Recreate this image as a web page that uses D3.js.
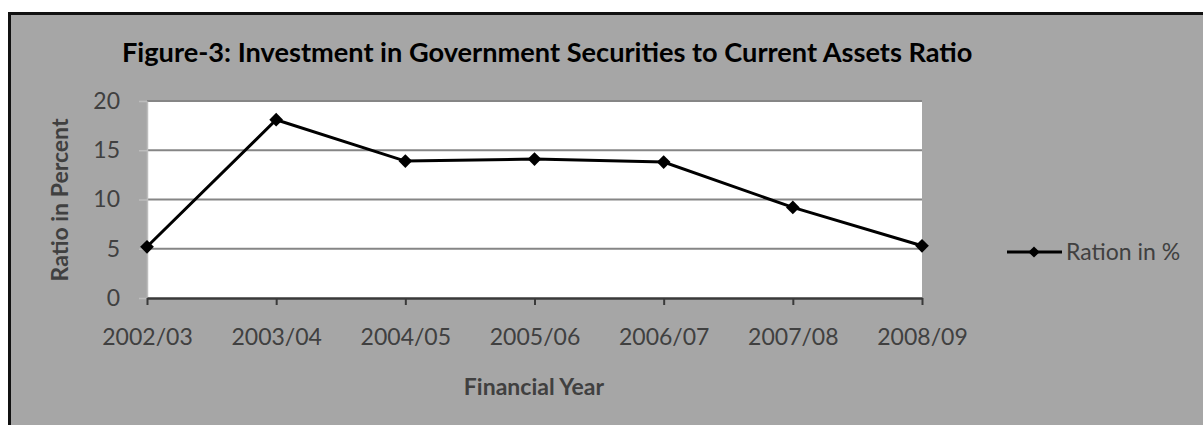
<!DOCTYPE html>
<html lang="en">
    <head>
        <meta charset="utf-8"/>
        <script src="https://d3js.org/d3.v7.min.js"></script>
        <style>
            body { margin: 0; background: #fff; }
            text { font-family: Lato, "Open Sans", sans-serif; }
        </style>
    </head>
    <body>
        <div id="chart"></div>
    </body>
    <script>
        var years = ["2002/03", "2003/04", "2004/05", "2005/06", "2006/07", "2007/08", "2008/09"];
        var ratio = [5.2, 18.1, 13.9, 14.1, 13.8, 9.2, 5.3];
        var yTicks = [0, 5, 10, 15, 20];
        var seriesName = "Ration in %";

        var W = 1203, H = 425;
        var margin = {top: 101, left: 147};
        var width = 922 - 147;
        var height = 298 - 101;

        var svg = d3.select("#chart")
            .append("svg")
                .attr("width", W)
                .attr("height", H);

        // frame
        svg.append("rect")
            .attr("x", 9.5).attr("y", 13.5)
            .attr("width", W + 20).attr("height", H + 20)
            .attr("fill", "#a6a6a6")
            .attr("stroke", "#111")
            .attr("stroke-width", 3);

        // title, fitted to reference width
        var title = svg.append("text")
            .attr("x", 122).attr("y", 62)
            .attr("font-weight", "bold")
            .attr("font-size", 24)
            .attr("fill", "#000")
            .text("Figure-3: Investment in Government Securities to Current Assets Ratio");
        var tl = title.node().getComputedTextLength();
        title.attr("font-size", 24 * 851 / tl);

        var g = svg.append("g")
            .attr("transform", "translate(" + margin.left + "," + margin.top + ")");

        var x = d3.scalePoint()
            .domain(years)
            .range([0, width]);

        var y = d3.scaleLinear()
            .domain([0, 20])
            .range([height, 0]);

        g.append("rect")
            .attr("width", width).attr("height", height)
            .attr("fill", "#fff");

        // gridlines
        g.selectAll(".grid")
            .data(yTicks.filter(function (d) { return d > 0; }))
            .enter()
            .append("line")
                .attr("x1", 0).attr("x2", width)
                .attr("y1", function (d) { return y(d); })
                .attr("y2", function (d) { return y(d); })
                .attr("stroke", "#868686")
                .attr("stroke-width", 2);

        // y axis (faint line, labels)
        var yAxis = g.append("g")
            .call(d3.axisLeft(y).tickValues(yTicks).tickSizeInner(8).tickSizeOuter(0).tickPadding(19));
        yAxis.select(".domain")
            .attr("stroke", "#bdbdbd")
            .attr("stroke-width", 1.5);
        yAxis.selectAll(".tick line")
            .attr("stroke", "#bdbdbd")
            .attr("stroke-width", 1.5);
        yAxis.selectAll("text")
            .attr("font-size", 23)
            .attr("fill", "#404040")
            .style("font-family", "Lato, sans-serif");

        // x axis
        var xAxis = g.append("g")
            .attr("transform", "translate(0," + height + ")")
            .call(d3.axisBottom(x).tickSizeInner(7).tickSizeOuter(0).tickPadding(24));
        xAxis.select(".domain")
            .attr("stroke", "#3a3a3a")
            .attr("stroke-width", 2.5);
        xAxis.selectAll(".tick line")
            .attr("stroke", "#3a3a3a")
            .attr("stroke-width", 2);
        xAxis.selectAll("text")
            .attr("font-size", 23)
            .attr("fill", "#404040")
            .style("font-family", "Lato, sans-serif");

        // axis titles
        svg.append("text")
            .attr("transform", "translate(68,200) rotate(-90)")
            .attr("text-anchor", "middle")
            .attr("font-weight", "bold")
            .attr("font-size", 23)
            .attr("fill", "#404040")
            .text("Ratio in Percent");

        svg.append("text")
            .attr("x", 534).attr("y", 395)
            .attr("text-anchor", "middle")
            .attr("font-weight", "bold")
            .attr("font-size", 23)
            .attr("fill", "#404040")
            .text("Financial Year");

        // series
        var line = d3.line()
            .x(function (d, i) { return x(years[i]); })
            .y(function (d) { return y(d); });

        g.append("path")
            .datum(ratio)
            .attr("d", line)
            .attr("fill", "none")
            .attr("stroke", "#000")
            .attr("stroke-width", 3);

        var diamond = d3.symbol().type(d3.symbolDiamond2).size(120);

        g.selectAll(".pt")
            .data(ratio)
            .enter()
            .append("path")
                .attr("d", diamond)
                .attr("transform", function (d, i) { return "translate(" + x(years[i]) + "," + y(d) + ")"; })
                .attr("fill", "#000");

        // legend
        var lg = svg.append("g").attr("transform", "translate(1007,252)");
        lg.append("line")
            .attr("x1", 0).attr("x2", 55)
            .attr("stroke", "#000").attr("stroke-width", 3);
        lg.append("path")
            .attr("d", d3.symbol().type(d3.symbolDiamond2).size(80))
            .attr("transform", "translate(27,0)")
            .attr("fill", "#000");
        lg.append("text")
            .attr("x", 59).attr("y", 8)
            .attr("font-size", 23)
            .attr("fill", "#404040")
            .text(seriesName);
    </script>
</html>
